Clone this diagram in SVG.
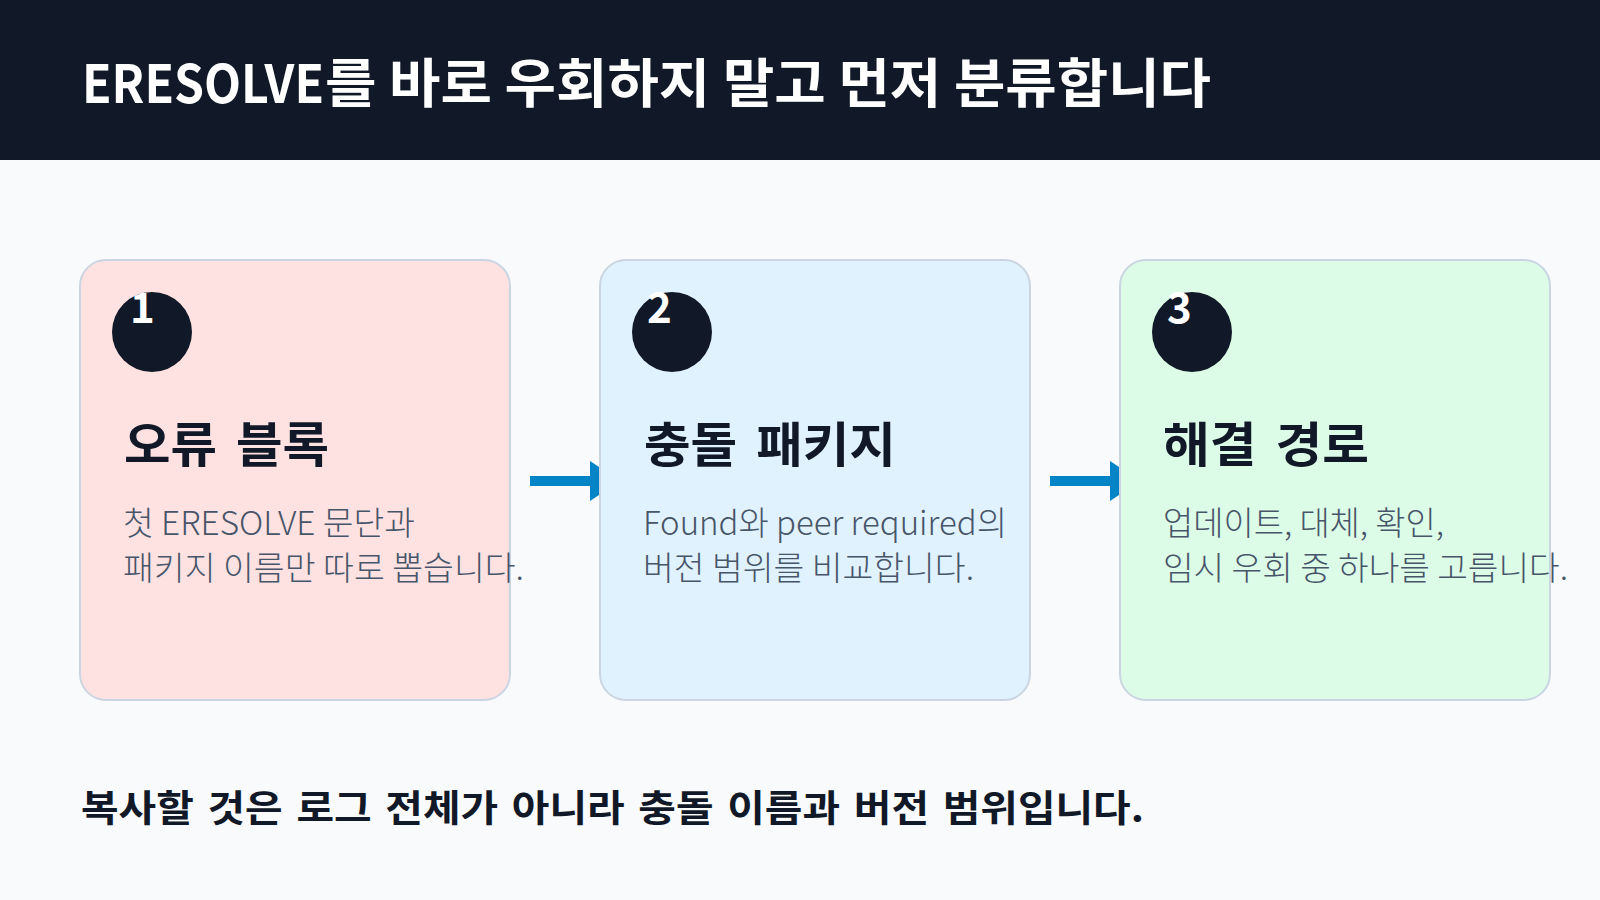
<svg xmlns="http://www.w3.org/2000/svg" width="1600" height="900" viewBox="0 0 1600 900">
<defs>
<style>
.t{font-family:"Noto Sans CJK KR","Noto Sans",sans-serif}
.title{font-size:53px;font-weight:700;fill:#ffffff}
.card{stroke:#cbd5e1;stroke-width:2}
.badge{fill:#111827}
.num{font-size:42px;font-weight:700;fill:#ffffff}
.head{font-size:48px;font-weight:700;fill:#111827;word-spacing:7px}
.desc{font-size:33px;font-weight:300;fill:#475569}
.foot{font-size:37px;font-weight:700;fill:#111827;word-spacing:4px}
.conn{stroke:#0284c7;stroke-width:10;fill:none}
.head-arrow{fill:#0284c7}
</style>
</defs>
<rect x="0" y="0" width="1600" height="900" fill="#f8fafc"/>
<rect x="0" y="0" width="1600" height="160" fill="#111827"/>
<text class="t title" x="82" y="103" textLength="242" lengthAdjust="spacingAndGlyphs">ERESOLVE</text>
<text class="t title" x="325" y="103" textLength="886" lengthAdjust="spacingAndGlyphs">를 바로 우회하지 말고 먼저 분류합니다</text>
<g id="connectors">
<line class="conn" x1="530" y1="481" x2="592" y2="481"/>
<polygon class="head-arrow" points="590,461 620,481 590,501"/>
<line class="conn" x1="1050" y1="481" x2="1112" y2="481"/>
<polygon class="head-arrow" points="1110,461 1140,481 1110,501"/>
</g>
<g id="card1">
<rect class="card" x="80" y="260" width="430" height="440" rx="26" fill="#fee2e2"/>
<circle class="badge" cx="152" cy="332" r="40"/>
<text class="t num" x="130" y="323">1</text>
<text class="t head" x="124" y="462" textLength="205" lengthAdjust="spacingAndGlyphs">오류 블록</text>
<text class="t desc" x="123" y="535" textLength="292" lengthAdjust="spacingAndGlyphs">첫 ERESOLVE 문단과</text>
<text class="t desc" x="123" y="580" textLength="401" lengthAdjust="spacingAndGlyphs">패키지 이름만 따로 뽑습니다.</text>
</g>
<g id="card2">
<rect class="card" x="600" y="260" width="430" height="440" rx="26" fill="#e0f2fe"/>
<circle class="badge" cx="672" cy="332" r="40"/>
<text class="t num" x="647" y="323">2</text>
<text class="t head" x="644" y="462" textLength="252" lengthAdjust="spacingAndGlyphs">충돌 패키지</text>
<text class="t desc" x="643" y="535" textLength="364" lengthAdjust="spacingAndGlyphs">Found와 peer required의</text>
<text class="t desc" x="643" y="580" textLength="331" lengthAdjust="spacingAndGlyphs">버전 범위를 비교합니다.</text>
</g>
<g id="card3">
<rect class="card" x="1120" y="260" width="430" height="440" rx="26" fill="#dcfce7"/>
<circle class="badge" cx="1192" cy="332" r="40"/>
<text class="t num" x="1167" y="323">3</text>
<text class="t head" x="1163" y="462" textLength="206" lengthAdjust="spacingAndGlyphs">해결 경로</text>
<text class="t desc" x="1163" y="535" textLength="281" lengthAdjust="spacingAndGlyphs">업데이트, 대체, 확인,</text>
<text class="t desc" x="1163" y="580" textLength="405" lengthAdjust="spacingAndGlyphs">임시 우회 중 하나를 고릅니다.</text>
</g>
<text class="t foot" x="81" y="822" textLength="1063" lengthAdjust="spacingAndGlyphs">복사할 것은 로그 전체가 아니라 충돌 이름과 버전 범위입니다.</text>
</svg>
